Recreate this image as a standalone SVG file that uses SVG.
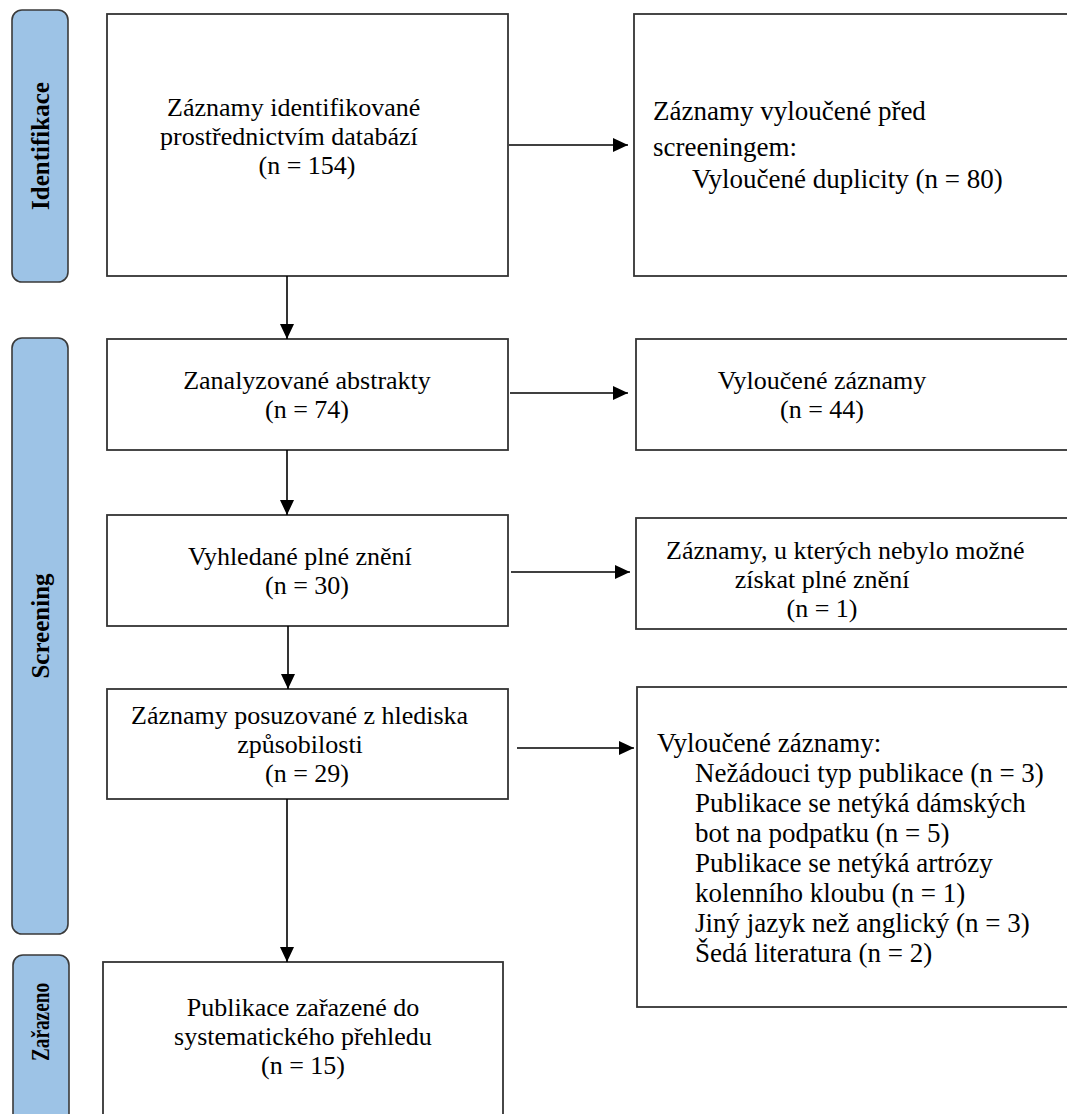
<svg xmlns="http://www.w3.org/2000/svg" width="1067" height="1114" viewBox="0 0 1067 1114">
<style>
.stage{fill:#9DC3E6;stroke:#3a3a3a;stroke-width:1.6}
.box{fill:#fff;stroke:#333;stroke-width:1.8}
.t{font-family:"Liberation Serif","Times New Roman",serif;font-size:26px;fill:#000}
.t7{font-size:27px}
.s{font-family:"Liberation Serif","Times New Roman",serif;font-size:25px;font-weight:bold;fill:#000}
.c{text-anchor:middle}
.con{stroke:#000;stroke-width:1.6;fill:none;marker-end:url(#ah)}
</style>
<defs>
<marker id="ah" markerUnits="userSpaceOnUse" markerWidth="15" markerHeight="14" refX="15" refY="7" orient="auto">
<path d="M0,0 L15,7 L0,14 Z" fill="#000"/>
</marker>
</defs>
<rect width="1067" height="1114" fill="#fff"/>

<g id="stage-identifikace">
<rect class="stage" x="12" y="10" width="56" height="272" rx="10"/>
<text class="s c" transform="translate(49,146) rotate(-90)">Identifikace</text>
</g>
<g id="stage-screening">
<rect class="stage" x="12" y="338" width="56" height="596" rx="10"/>
<text class="s c" transform="translate(49,626) rotate(-90)">Screening</text>
</g>
<g id="stage-zarazeno">
<rect class="stage" x="13" y="955" width="56" height="180" rx="10"/>
<text class="s c" transform="translate(49,1022) rotate(-90)" textLength="78" lengthAdjust="spacingAndGlyphs">Zařazeno</text>
</g>

<g id="n1">
<rect class="box" x="107" y="14" width="401" height="262"/>
<text class="t" x="167" y="116">Záznamy identifikované</text>
<text class="t" x="160" y="145">prostřednictvím databází</text>
<text class="t c" x="307" y="174">(n = 154)</text>
</g>
<g id="n1x">
<rect class="box" x="634" y="14" width="450" height="262"/>
<text class="t t7" x="653" y="120">Záznamy vyloučené před</text>
<text class="t t7" x="653" y="156">screeningem:</text>
<text class="t t7" x="692" y="188">Vyloučené duplicity (n = 80)</text>
</g>

<g id="n2">
<rect class="box" x="107" y="339" width="401" height="111"/>
<text class="t c" x="307" y="389">Zanalyzované abstrakty</text>
<text class="t c" x="307" y="418">(n = 74)</text>
</g>
<g id="n2x">
<rect class="box" x="636" y="339" width="450" height="111"/>
<text class="t c" x="822" y="389">Vyloučené záznamy</text>
<text class="t c" x="822" y="418">(n = 44)</text>
</g>

<g id="n3">
<rect class="box" x="107" y="515" width="401" height="111"/>
<text class="t" x="188" y="565">Vyhledané plné znění</text>
<text class="t c" x="307" y="594">(n = 30)</text>
</g>
<g id="n3x">
<rect class="box" x="636" y="518" width="450" height="111"/>
<text class="t" x="666" y="559">Záznamy, u kterých nebylo možné</text>
<text class="t c" x="822" y="588">získat plné znění</text>
<text class="t c" x="822" y="617">(n = 1)</text>
</g>

<g id="n4">
<rect class="box" x="107" y="689" width="401" height="110"/>
<text class="t" x="131" y="724">Záznamy posuzované z hlediska</text>
<text class="t c" x="300" y="753">způsobilosti</text>
<text class="t c" x="307" y="782">(n = 29)</text>
</g>
<g id="n4x">
<rect class="box" x="637" y="687" width="450" height="320"/>
<text class="t t7" x="657" y="752">Vyloučené záznamy:</text>
<text class="t t7" x="695" y="782">Nežádouci typ publikace (n = 3)</text>
<text class="t t7" x="695" y="812">Publikace se netýká dámských</text>
<text class="t t7" x="695" y="842">bot na podpatku (n = 5)</text>
<text class="t t7" x="695" y="872">Publikace se netýká artrózy</text>
<text class="t t7" x="695" y="902">kolenního kloubu (n = 1)</text>
<text class="t t7" x="695" y="932">Jiný jazyk než anglický (n = 3)</text>
<text class="t t7" x="695" y="962">Šedá literatura (n = 2)</text>
</g>

<g id="n5">
<rect class="box" x="103" y="962" width="400" height="180"/>
<text class="t c" x="303" y="1016">Publikace zařazené do</text>
<text class="t c" x="303" y="1045">systematického přehledu</text>
<text class="t c" x="303" y="1074">(n = 15)</text>
</g>

<g id="connectors">
<line class="con" x1="287" y1="276" x2="287" y2="339"/>
<line class="con" x1="509" y1="145" x2="628" y2="145"/>
<line class="con" x1="287" y1="450" x2="287" y2="515"/>
<line class="con" x1="510" y1="393" x2="628" y2="393"/>
<line class="con" x1="288" y1="626" x2="288" y2="689"/>
<line class="con" x1="511" y1="572" x2="630" y2="572"/>
<line class="con" x1="517" y1="748" x2="634" y2="748"/>
<line class="con" x1="287" y1="799" x2="287" y2="962"/>
</g>
</svg>
